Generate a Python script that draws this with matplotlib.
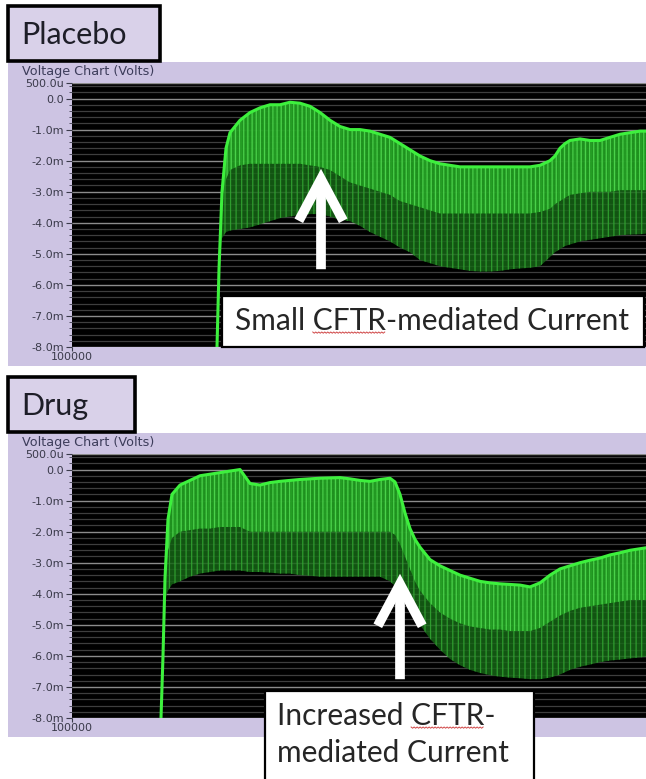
import numpy as np
import matplotlib
matplotlib.use("Agg")
import matplotlib.pyplot as plt
from matplotlib.patches import Rectangle, FancyArrowPatch
from matplotlib.lines import Line2D
from matplotlib.ticker import MultipleLocator, FixedLocator, FixedFormatter

W, H = 646, 779
X0 = 100000  # start of time axis

# ---------------- data ----------------
ytick_vals = [0.5, 0.0, -1.0, -2.0, -3.0, -4.0, -5.0, -6.0, -7.0, -8.0]
ytick_labels = ["500.0u", "0.0", "-1.0m", "-2.0m", "-3.0m", "-4.0m",
                "-5.0m", "-6.0m", "-7.0m", "-8.0m"]

# Placebo trace: time offsets, upper envelope, dense-band lower edge, lower envelope (mV)
placebo_t = [145, 147, 150, 154, 158, 168, 178, 188, 198, 208, 218, 228, 238, 248,
             258, 268, 278, 288, 298, 308, 318, 328, 338, 348, 358, 368, 378, 388,
             398, 408, 418, 428, 438, 448, 458, 468, 478, 483, 488, 493, 498, 508,
             518, 528, 538, 548, 558, 568, 574]
placebo_upper = [-8.0, -5.5, -3.0, -1.6, -1.1, -0.7, -0.45, -0.3, -0.2, -0.2, -0.12,
                 -0.15, -0.25, -0.45, -0.7, -0.9, -1.0, -1.0, -1.05, -1.15, -1.25,
                 -1.45, -1.65, -1.85, -2.0, -2.1, -2.15, -2.2, -2.2, -2.2, -2.2, -2.2,
                 -2.2, -2.2, -2.2, -2.15, -2.0, -1.85, -1.6, -1.45, -1.35, -1.3, -1.35,
                 -1.35, -1.25, -1.15, -1.1, -1.05, -1.05]
placebo_mid = [-8.0, -5.5, -3.2, -2.6, -2.3, -2.15, -2.1, -2.1, -2.1, -2.1, -2.1, -2.1,
               -2.15, -2.2, -2.3, -2.5, -2.7, -2.8, -2.9, -3.0, -3.1, -3.3, -3.4, -3.5,
               -3.6, -3.7, -3.7, -3.7, -3.7, -3.7, -3.7, -3.7, -3.7, -3.7, -3.7, -3.65,
               -3.55, -3.4, -3.3, -3.2, -3.1, -3.05, -3.0, -3.0, -3.0, -2.95, -2.95,
               -2.95, -2.95]
placebo_lower = [-8.0, -5.5, -4.5, -4.3, -4.25, -4.2, -4.15, -4.05, -3.95, -3.85, -3.8,
                 -3.75, -3.72, -3.72, -3.8, -3.9, -3.95, -4.1, -4.3, -4.45, -4.6, -4.8,
                 -4.95, -5.2, -5.3, -5.4, -5.45, -5.5, -5.55, -5.57, -5.57, -5.55, -5.5,
                 -5.47, -5.45, -5.4, -5.1, -4.95, -4.85, -4.75, -4.7, -4.6, -4.55, -4.5,
                 -4.45, -4.4, -4.38, -4.37, -4.35]

# Drug trace
drug_t = [89, 91, 93, 96, 100, 108, 118, 128, 138, 148, 158, 168, 178, 188, 198, 208,
          218, 228, 238, 248, 258, 268, 278, 288, 298, 308, 318, 323, 328, 333, 338,
          343, 348, 358, 368, 378, 388, 398, 408, 418, 428, 438, 448, 458, 468, 478,
          488, 498, 508, 518, 528, 538, 548, 558, 568, 574]
drug_upper = [-8.0, -6.0, -3.5, -1.6, -0.8, -0.5, -0.35, -0.2, -0.15, -0.1, -0.05, 0.0,
              -0.45, -0.5, -0.42, -0.38, -0.35, -0.32, -0.3, -0.28, -0.27, -0.26, -0.3,
              -0.35, -0.38, -0.32, -0.28, -0.4, -0.8, -1.4, -1.9, -2.25, -2.5, -2.9,
              -3.1, -3.25, -3.4, -3.5, -3.6, -3.65, -3.68, -3.7, -3.72, -3.78, -3.65,
              -3.4, -3.2, -3.1, -3.0, -2.92, -2.85, -2.75, -2.68, -2.6, -2.55, -2.52]
drug_mid = [-8.0, -6.0, -3.6, -2.6, -2.2, -2.0, -1.95, -1.9, -1.9, -1.85, -1.85, -1.85,
            -2.0, -2.0, -2.0, -2.0, -2.0, -2.0, -2.0, -2.0, -2.0, -2.0, -2.0, -2.0, -2.0,
            -2.0, -2.0, -2.1, -2.4, -2.8, -3.2, -3.6, -3.9, -4.3, -4.6, -4.8, -4.95,
            -5.05, -5.1, -5.15, -5.15, -5.2, -5.2, -5.2, -5.1, -4.9, -4.7, -4.55, -4.45,
            -4.4, -4.35, -4.3, -4.25, -4.2, -4.2, -4.2]
drug_lower = [-8.0, -6.0, -4.2, -3.9, -3.7, -3.6, -3.45, -3.35, -3.3, -3.25, -3.25,
              -3.25, -3.3, -3.3, -3.32, -3.35, -3.35, -3.4, -3.42, -3.45, -3.45, -3.45,
              -3.45, -3.45, -3.45, -3.45, -3.6, -3.75, -3.9, -4.2, -4.5, -4.75, -5.0,
              -5.45, -5.8, -6.1, -6.3, -6.45, -6.55, -6.62, -6.67, -6.7, -6.72, -6.75,
              -6.75, -6.7, -6.6, -6.45, -6.35, -6.28, -6.2, -6.15, -6.12, -6.08, -6.05,
              -6.03]

# ---------------- styling ----------------
LAV = "#cdc4e3"
LAV_LABEL = "#d9d1e9"
LABEL_FONT = ["Lato", "DejaVu Sans"]
TICK_COL = "#3a3a4a"
plt.rcParams["hatch.linewidth"] = 0.9

fig = plt.figure(figsize=(W / 100, H / 100), dpi=100)
fig.patch.set_facecolor("white")
renderer = fig.canvas.get_renderer()


def frect(x0, y0, x1, y1):
    """pixel box (top-left origin) -> figure fraction rect"""
    return [x0 / W, 1 - y1 / H, (x1 - x0) / W, (y1 - y0) / H]


def add_rect(x0, y0, x1, y1, fc, ec="none", lw=0, z=0):
    r = frect(x0, y0, x1, y1)
    fig.patches.append(Rectangle((r[0], r[1]), r[2], r[3], transform=fig.transFigure,
                                 facecolor=fc, edgecolor=ec, linewidth=lw, zorder=z))


def panel(top, label, label_right, t, up, mid, lo):
    # label box
    add_rect(8, top, label_right, top + 55, LAV_LABEL, "black", 2.6, z=2)
    fig.text(21 / W, 1 - (top + 29) / H, label, fontsize=22, family=LABEL_FONT,
             color="#1e1e28", va="center", ha="left", zorder=3)
    # chart window
    add_rect(8, top + 56, W, top + 360, LAV, z=1)
    fig.text(22 / W, 1 - (top + 66) / H, "Voltage Chart (Volts)", fontsize=9.2,
             color="#3c3c5a", va="center", ha="left", zorder=3)
    ax = fig.add_axes(frect(72, top + 77, W, top + 341))
    ax.set_zorder(2)
    ax.set_facecolor("black")
    ax.set_ylim(-8.0, 0.5)
    ax.set_xlim(X0, X0 + 574)
    for s in ax.spines.values():
        s.set_visible(False)
    ax.yaxis.set_major_locator(FixedLocator(ytick_vals))
    ax.yaxis.set_major_formatter(FixedFormatter(ytick_labels))
    ax.yaxis.set_minor_locator(MultipleLocator(0.2))
    ax.tick_params(axis="y", which="major", length=4, width=0.8, color=TICK_COL,
                   labelsize=8, labelcolor=TICK_COL, pad=1.5)
    ax.tick_params(axis="y", which="minor", length=2.5, width=0.6, color=TICK_COL)
    ax.set_xticks([X0])
    ax.set_xticklabels(["100000"])
    ax.tick_params(axis="x", length=3, width=0.8, color=TICK_COL, labelsize=8,
                   labelcolor=TICK_COL, pad=0.5)
    ax.grid(axis="y", which="minor", color="#3e3e3e", lw=0.9)
    ax.grid(axis="y", which="major", color="#8c8c8c", lw=1.0)
    ax.set_axisbelow(True)
    tt = np.array(t) + X0
    ax.fill_between(tt, lo, up, facecolor="#166416", edgecolor="#33a833",
                    hatch="|||", linewidth=0, alpha=0.85, zorder=3)
    ax.fill_between(tt, mid, up, facecolor="#22a022", edgecolor="#55e055",
                    hatch="||||", linewidth=0, alpha=0.8, zorder=4)
    ax.plot(tt, up, color="#3df03d", lw=2.2, zorder=5, solid_joinstyle="round")
    return ax


panel(6, "Placebo", 160, placebo_t, placebo_upper, placebo_mid, placebo_lower)
panel(377, "Drug", 135, drug_t, drug_upper, drug_mid, drug_lower)


def arrow(x, y_tail, y_tip):
    fig.add_artist(FancyArrowPatch(
        (x / W, 1 - y_tail / H), (x / W, 1 - y_tip / H), transform=fig.transFigure,
        arrowstyle="->,head_length=3.0,head_width=1.6", mutation_scale=10,
        color="white", lw=7, capstyle="butt", joinstyle="miter", zorder=10))


arrow(321, 272, 166)
arrow(400, 682, 571)


def text_width(s, size):
    t = fig.text(0, 0, s, fontsize=size, family=LABEL_FONT)
    w = t.get_window_extent(renderer).width
    t.remove()
    return w


def box_text(x, y, s, size, squiggle_prefix=None, squiggle_word=None):
    fig.text(x / W, 1 - y / H, s, fontsize=size, family=LABEL_FONT,
             color="#262626", va="center", ha="left", zorder=12)
    if squiggle_word:
        w_all = text_width(squiggle_prefix + squiggle_word, size)
        w_word = text_width(squiggle_word, size)
        xs = x + w_all - w_word
        xe = x + w_all
        px = np.arange(xs, xe, 1.5)
        py = y + 11 + np.where(np.arange(len(px)) % 2 == 0, 0.0, 1.2)
        fig.add_artist(Line2D(px / W, 1 - py / H, transform=fig.transFigure,
                              color="#d04848", lw=0.7, zorder=13))


# text boxes
add_rect(222, 296, W - 2, 347, "white", "black", 1.6, z=11)
box_text(235, 321, "Small CFTR-mediated Current", 21.5, "Small ", "CFTR")
add_rect(265, 691, 534, H + 5, "white", "black", 1.6, z=11)
box_text(277, 716, "Increased CFTR-", 21.5, "Increased ", "CFTR")
box_text(277, 753, "mediated Current", 21.5)

fig.savefig("out.png", dpi=100, facecolor="white")
